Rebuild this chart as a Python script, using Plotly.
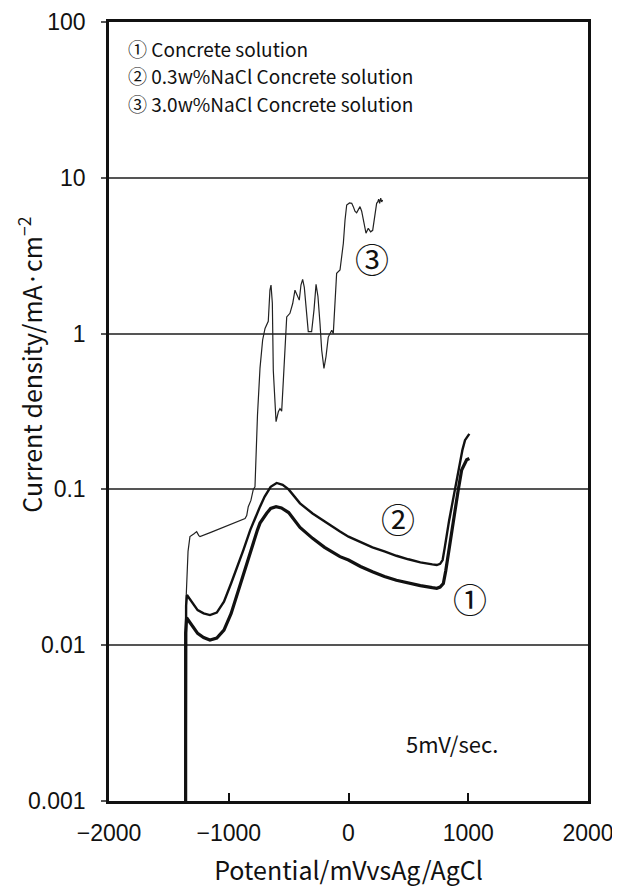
import math
import plotly.graph_objects as go

# Curve 1: Concrete solution
c1_x = [-1360, -1360, -1352, -1330, -1300, -1260, -1210, -1157, -1100, -1040, -980, -920, -878,
        -820, -760, -739, -700, -683, -650, -605, -560, -500, -405, -300, -200, -71, 0,
        100, 200, 300, 400, 500, 600, 700, 737, 765, 792, 812, 834, 855, 876, 900, 917,
        945, 970, 987, 1009]
c1_y = [0.001, 0.012, 0.0150, 0.0142, 0.0130, 0.0119, 0.0112, 0.0108, 0.0111, 0.0125, 0.0160,
        0.0225, 0.0289, 0.040, 0.055, 0.0608, 0.068, 0.0703, 0.0755, 0.0775, 0.0760, 0.0710,
        0.0570, 0.0485, 0.0425, 0.0370, 0.0352, 0.0320, 0.0296, 0.0276, 0.0261, 0.0250,
        0.0241, 0.0234, 0.0232, 0.0236, 0.0249, 0.0300, 0.0389, 0.050, 0.0637, 0.083, 0.100,
        0.133, 0.148, 0.155, 0.158]

# Curve 2: 0.3w%NaCl Concrete solution
c2_x = [-1360, -1356, -1349, -1330, -1300, -1260, -1210, -1157, -1100, -1040, -980, -920, -878,
        -820, -760, -739, -700, -683, -650, -600, -550, -500, -405, -300, -200, -71, 0,
        100, 200, 300, 400, 500, 600, 700, 737, 765, 786, 803, 820, 840, 862, 889, 910, 931,
        952, 973, 990, 1009]
c2_y = [0.001, 0.018, 0.0210, 0.0200, 0.0183, 0.0168, 0.0160, 0.0156, 0.0162, 0.0190, 0.0250,
        0.0330, 0.0408, 0.055, 0.072, 0.0775, 0.090, 0.0944, 0.104, 0.110, 0.107, 0.100,
        0.0814, 0.0700, 0.0620, 0.0536, 0.0497, 0.0460, 0.0425, 0.0400, 0.0375, 0.0356,
        0.0340, 0.0330, 0.0327, 0.0333, 0.0352, 0.0420, 0.0522, 0.063, 0.0775, 0.100, 0.125,
        0.155, 0.180, 0.207, 0.218, 0.227]

# Curve 3: 3.0w%NaCl Concrete solution
c3_x = [-1360, -1356, -1340, -1324, -1290, -1268, -1250, -1240, -1150, -1050, -950, -864, -850,
        -837, -815, -795, -781, -760, -739, -717, -697, -683, -670, -656, -647, -636, -628,
        -605, -586, -572, -558, -544, -524, -516, -489, -466, -447, -428, -411, -397, -383,
        -369, -349, -336, -308, -288, -271, -255, -238, -224, -205, -188, -169, -154, -140,
        -127, -113, -99, -71, -57, -43, -29, -15, 8, 27, 40, 54, 68, 82, 96, 110, 124, 138,
        146, 165, 185, 202, 221, 235, 244, 252, 260, 269, 277, 285]
c3_y = [0.001, 0.020, 0.040, 0.0498, 0.052, 0.0536, 0.0505, 0.0498, 0.053, 0.057, 0.061, 0.065,
        0.068, 0.0775, 0.085, 0.100, 0.104, 0.30, 0.60, 0.91, 1.08, 1.16, 1.20, 1.90, 2.05,
        1.57, 0.58, 0.272, 0.315, 0.33, 0.318, 0.503, 0.98, 1.28, 1.35, 1.56, 1.90, 1.77,
        1.64, 2.05, 2.23, 1.98, 1.28, 1.03, 1.03, 1.42, 2.07, 1.73, 1.16, 0.785, 0.598, 0.71,
        0.95, 1.00, 1.05, 1.00, 1.56, 2.44, 2.56, 3.12, 3.80, 5.36, 6.69, 6.90, 6.86, 6.53,
        6.10, 5.96, 6.30, 6.53, 6.10, 5.36, 4.60, 4.41, 4.74, 4.50, 4.60, 5.62, 6.86, 7.00,
        7.30, 6.86, 7.40, 7.00, 7.20]

x_ticks = [-2000, -1000, 0, 1000, 2000]
x_ticktext = ["\u22122000", "\u22121000", "0", "1000", "2000"]
y_ticks = [0.001, 0.01, 0.1, 1, 10, 100]
y_ticktext = ["0.001", "0.01", "0.1", "1", "10", "100"]

legend_lines = ["\u2460 Concrete solution",
                "\u2461 0.3w%NaCl Concrete solution",
                "\u2462 3.0w%NaCl Concrete solution"]

TXT = "Noto Sans CJK JP, Liberation Sans, Arial, sans-serif"
NUM = "Liberation Sans, Arial, sans-serif"

fig = go.Figure()
fig.add_trace(go.Scatter(x=c3_x, y=c3_y, mode="lines",
                         line=dict(color="#222222", width=1.2), showlegend=False))
fig.add_trace(go.Scatter(x=c2_x, y=c2_y, mode="lines",
                         line=dict(color="#111111", width=2.4), showlegend=False))
fig.add_trace(go.Scatter(x=c1_x, y=c1_y, mode="lines",
                         line=dict(color="#111111", width=3.2), showlegend=False))

for i, t in enumerate(legend_lines):
    fig.add_annotation(x=0.036, y=0.9666 - i * 0.0355, xref="paper", yref="paper",
                       text=t, showarrow=False, xanchor="left", yanchor="middle",
                       font=dict(family=TXT, size=19, color="#111"))

fig.add_annotation(x=-0.165, y=0.56, xref="paper", yref="paper", textangle=-90,
                   text="Current density/mA\u00b7cm<sup>\u22122</sup>", showarrow=False,
                   xanchor="center", yanchor="middle",
                   font=dict(family=TXT, size=25, color="#111"))

fig.add_annotation(x=196, y=math.log10(3.05), text="\u2462", showarrow=False,
                   font=dict(family=TXT, size=34, color="#111"))
fig.add_annotation(x=413, y=math.log10(0.0655), text="\u2461", showarrow=False,
                   font=dict(family=TXT, size=34, color="#111"))
fig.add_annotation(x=1015, y=math.log10(0.0198), text="\u2460", showarrow=False,
                   font=dict(family=TXT, size=34, color="#111"))
fig.add_annotation(x=864, y=math.log10(0.00236), text="5mV/sec.", showarrow=False,
                   font=dict(family=TXT, size=22, color="#111"))

fig.update_layout(
    width=612, height=879,
    margin=dict(l=101, r=32, t=14, b=86, autoexpand=False),
    paper_bgcolor="white", plot_bgcolor="white",
    xaxis=dict(range=[-2000, 2000], tickvals=x_ticks, ticktext=x_ticktext,
               automargin=False,
               ticks="inside", ticklen=8, tickwidth=1.5, tickcolor="#111",
               ticklabelstandoff=10,
               showgrid=False, zeroline=False,
               showline=True, linecolor="#111", linewidth=2.5, mirror=True,
               tickfont=dict(family=NUM, size=23, color="#111"),
               title=dict(text="Potential/mVvsAg/AgCl",
                          font=dict(family=TXT, size=25, color="#111"), standoff=19)),
    yaxis=dict(type="log", range=[-3, 2], tickvals=y_ticks, ticktext=y_ticktext,
               automargin=False,
               ticks="outside", ticklen=5, tickwidth=1.5, tickcolor="#555",
               ticklabelstandoff=11,
               showgrid=True, gridcolor="#555555", gridwidth=1.5,
               zeroline=False,
               showline=True, linecolor="#111", linewidth=2.5, mirror=True,
               tickfont=dict(family=NUM, size=23, color="#111")),
)

fig.write_html("out.html")
